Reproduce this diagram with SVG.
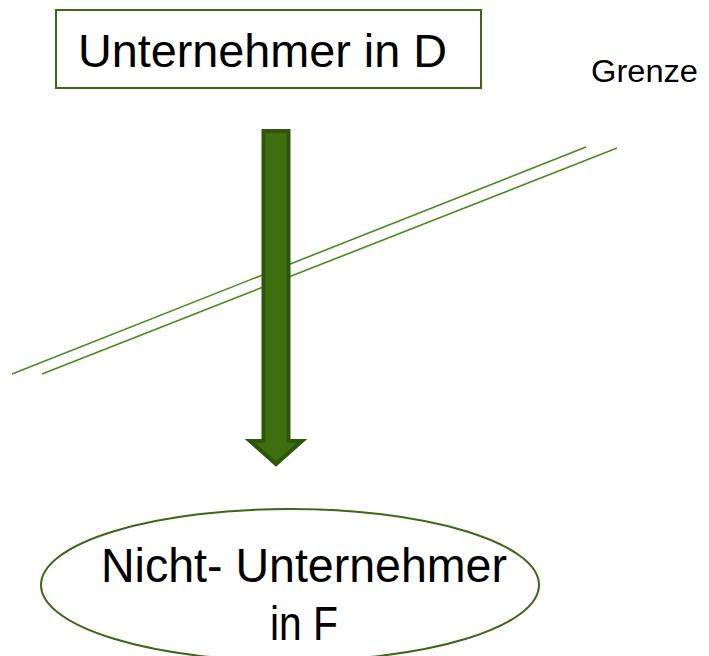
<svg xmlns="http://www.w3.org/2000/svg" width="709" height="656" viewBox="0 0 709 656">
<style>
.t{font-family:"Liberation Sans",Arial,sans-serif;fill:#000}
.node{fill:#fff;stroke:#3b6816;stroke-width:2}
.border{stroke:#4a8a1e;stroke-width:1.6;fill:none}
</style>
<rect width="709" height="656" fill="#fff"/>
<g id="border-lines">
<line class="border" x1="12" y1="374" x2="586" y2="147"/>
<line class="border" x1="42" y1="374" x2="617" y2="148"/>
</g>
<g id="connectors">
<path d="M263.5,131 H288.5 V441 H302 L276,464 L250,441 H263.5 Z" fill="#3e6f0f" stroke="#2d560a" stroke-width="4" stroke-linejoin="miter"/>
</g>
<g id="node-d">
<rect class="node" x="56" y="10" width="425" height="78"/>
<text class="t" x="78" y="67" font-size="46" textLength="369" lengthAdjust="spacingAndGlyphs">Unternehmer in D</text>
</g>
<g id="label-grenze">
<text class="t" x="591" y="82" font-size="31" textLength="107" lengthAdjust="spacingAndGlyphs">Grenze</text>
</g>
<g id="node-f">
<ellipse class="node" cx="290" cy="585" rx="249" ry="76"/>
<text class="t" x="101" y="582" font-size="48" textLength="406" lengthAdjust="spacingAndGlyphs">Nicht- Unternehmer</text>
<text class="t" x="270" y="640" font-size="48" textLength="68" lengthAdjust="spacingAndGlyphs">in F</text>
</g>
</svg>
